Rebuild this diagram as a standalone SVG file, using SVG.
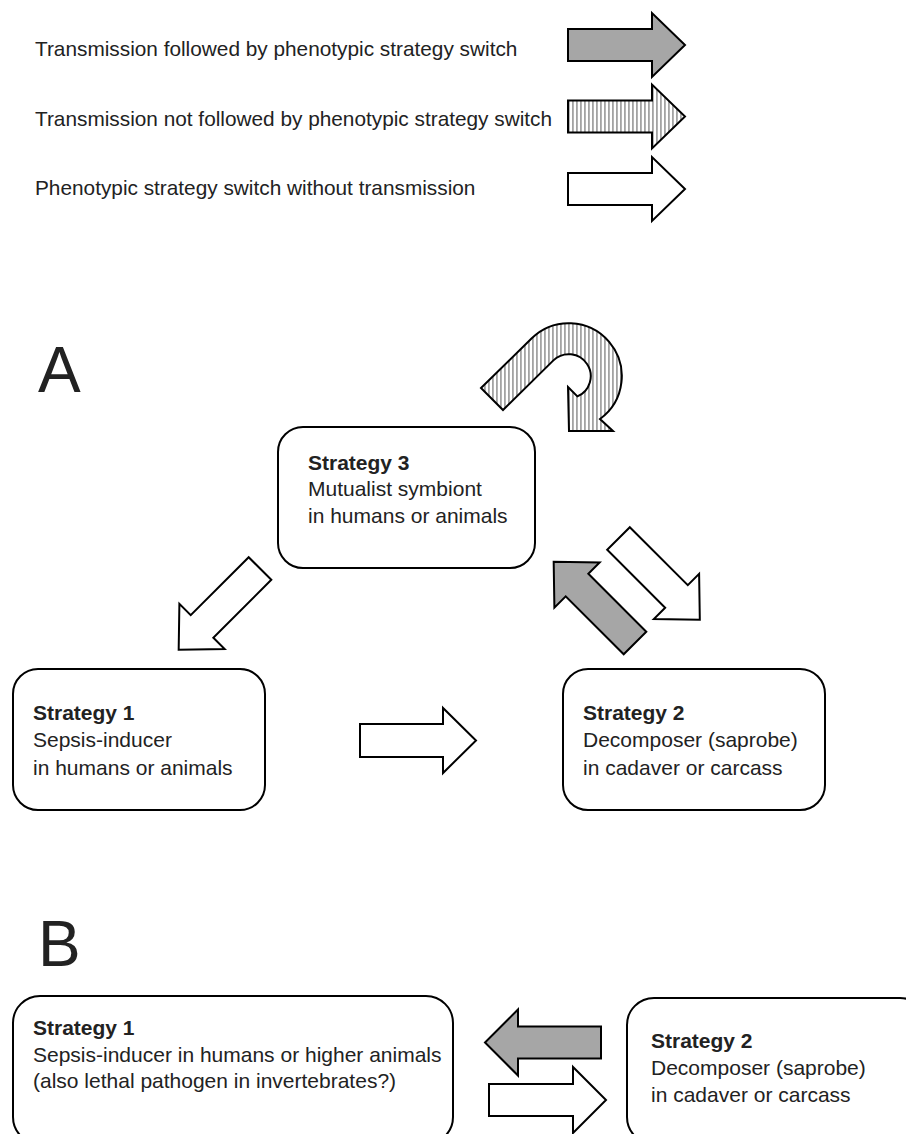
<svg xmlns="http://www.w3.org/2000/svg" width="906" height="1134" viewBox="0 0 906 1134">
<style>
.t{font-family:"Liberation Sans",Arial,sans-serif;font-size:21px;fill:#222}
.lg{font-size:20.8px}
.b{font-weight:bold}
.big{font-family:"Liberation Sans",Arial,sans-serif;font-size:64px;fill:#222}
.box{fill:#fff;stroke:#000;stroke-width:2}
.ar{stroke:#000;stroke-width:2;stroke-linejoin:miter}
.grey{fill:#a6a6a6}
.white{fill:#fff}
.hatch{fill:url(#stripes)}
</style>
<defs>
<pattern id="stripes" patternUnits="userSpaceOnUse" width="4" height="4">
<rect x="0" y="0" width="4" height="4" fill="#fff"/>
<rect x="0" y="0" width="1.8" height="4" fill="#a3a3a3"/>
</pattern>
</defs>
<rect width="906" height="1134" fill="#fff"/>

<g id="legend">
<text class="t lg" x="35" y="56">Transmission followed by phenotypic strategy switch</text>
<text class="t lg" x="35" y="126">Transmission not followed by phenotypic strategy switch</text>
<text class="t lg" x="35" y="195">Phenotypic strategy switch without transmission</text>
<path class="ar grey" transform="translate(568,45)" d="M0,-16H84V-32L117,0L84,32V16H0Z"/>
<path class="ar hatch" transform="translate(568,116.5)" d="M0,-16H84V-32L117,0L84,32V16H0Z"/>
<path class="ar white" transform="translate(568,189)" d="M0,-16H84V-32L117,0L84,32V16H0Z"/>
</g>

<text class="big" x="38" y="392">A</text>
<text class="big" x="38" y="966">B</text>

<g id="a-strategy3">
<rect class="box" x="278" y="427" width="257" height="141" rx="25"/>
<text class="t b" x="308" y="470">Strategy 3</text>
<text class="t" x="308" y="496">Mutualist symbiont</text>
<text class="t" x="308" y="523">in humans or animals</text>
</g>

<g id="a-strategy1">
<rect class="box" x="13" y="669" width="252" height="141" rx="25"/>
<text class="t b" x="33" y="720">Strategy 1</text>
<text class="t" x="33" y="747">Sepsis-inducer</text>
<text class="t" x="33" y="775">in humans or animals</text>
</g>

<g id="a-strategy2">
<rect class="box" x="563" y="669" width="262" height="141" rx="25"/>
<text class="t b" x="583" y="720">Strategy 2</text>
<text class="t" x="583" y="747">Decomposer (saprobe)</text>
<text class="t" x="583" y="775">in cadaver or carcass</text>
</g>

<g id="b-strategy1">
<rect class="box" x="13" y="996" width="440" height="148" rx="27"/>
<text class="t b" x="33" y="1035">Strategy 1</text>
<text class="t" x="33" y="1062">Sepsis-inducer in humans or higher animals</text>
<text class="t" x="33" y="1088">(also lethal pathogen in invertebrates?)</text>
</g>

<g id="b-strategy2">
<rect class="box" x="627" y="998" width="300" height="146" rx="27"/>
<text class="t b" x="651" y="1048">Strategy 2</text>
<text class="t" x="651" y="1075">Decomposer (saprobe)</text>
<text class="t" x="651" y="1102">in cadaver or carcass</text>
</g>

<g id="connectors">
<path class="ar hatch" d="M481,388 L531.5,338.5 A53,53 0 1 1 600,419 L613,431 L569,431 L568,387 L577.4,396.4 A22,22 0 1 0 553.4,360.4 L503,410 Z"/>
<path class="ar white" transform="translate(260,568.5) rotate(135)" d="M0,-16H82V-32L115,0L82,32V16H0Z"/>
<path class="ar grey" transform="translate(635,643) rotate(-135)" d="M0,-16H82V-32L115,0L82,32V16H0Z"/>
<path class="ar white" transform="translate(618.5,538.5) rotate(45)" d="M0,-16H82V-32L115,0L82,32V16H0Z"/>
<path class="ar white" transform="translate(360,740.5)" d="M0,-16.5H83V-32.5L116,0L83,32.5V16.5H0Z"/>
<path class="ar grey" transform="translate(601,1042.5) rotate(180)" d="M0,-16H83V-33L116,0L83,33V16H0Z"/>
<path class="ar white" transform="translate(489,1100)" d="M0,-16H84V-33L117,0L84,33V16H0Z"/>
</g>
</svg>
